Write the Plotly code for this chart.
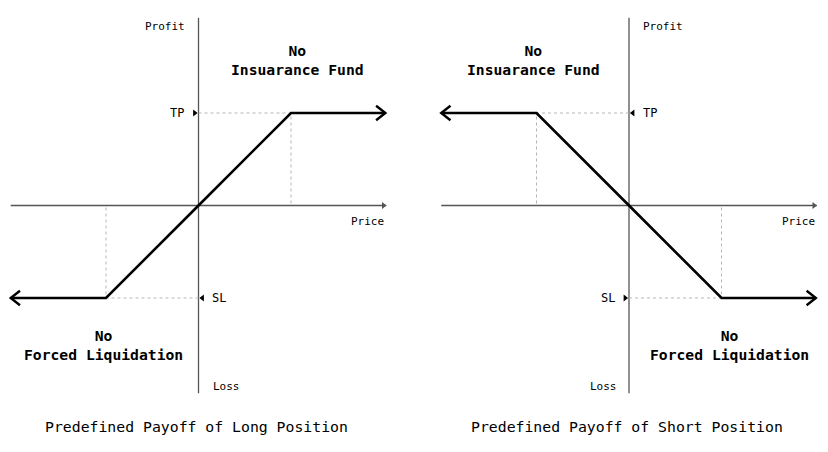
import plotly.graph_objects as go

# ---- data ----
price = [-2.03, -1.0, 0.0, 1.0, 2.02]
long_payoff = [-1.0, -1.0, 0.0, 1.0, 1.0]
short_payoff = [1.0, 1.0, 0.0, -1.0, -1.0]
take_profit = 1.0
stop_loss = -1.0
axis_extent = 2.03
titles = ["Predefined Payoff of Long Position", "Predefined Payoff of Short Position"]
region_top = "No<br>Insuarance Fund"
region_bottom = "No<br>Forced Liquidation"

FONT = "DejaVu Sans Mono"
AXIS_COLOR = "#555555"
GUIDE_COLOR = "#b5b5b5"

# page body margin offset (the plot div sits 8px in from the page corner)
OFF = 8
W, H = 828 - OFF, 452 - OFF

fig = go.Figure()


def add_panel(payoff, xr, yr):
    fig.add_trace(go.Scatter(x=[-axis_extent, axis_extent], y=[0, 0], mode="lines",
                             line=dict(color=AXIS_COLOR, width=1.3), xaxis=xr, yaxis=yr,
                             hoverinfo="skip"))
    fig.add_trace(go.Scatter(x=[0, 0], y=[-axis_extent, axis_extent], mode="lines",
                             line=dict(color=AXIS_COLOR, width=1.3), xaxis=xr, yaxis=yr,
                             hoverinfo="skip"))
    fig.add_trace(go.Scatter(x=[axis_extent - 0.03], y=[0], mode="markers",
                             marker=dict(symbol="triangle-right", size=6, color=AXIS_COLOR),
                             xaxis=xr, yaxis=yr, hoverinfo="skip"))
    gx, gy = [], []
    for px, py in zip(price[1:-1], payoff[1:-1]):
        if py == 0:
            continue
        gx += [0, px, px, None]
        gy += [py, py, 0, None]
    fig.add_trace(go.Scatter(x=gx, y=gy, mode="lines",
                             line=dict(color=GUIDE_COLOR, width=1, dash="dot"),
                             xaxis=xr, yaxis=yr, hoverinfo="skip"))
    fig.add_trace(go.Scatter(x=price, y=payoff, mode="lines",
                             line=dict(color="black", width=2.6), xaxis=xr, yaxis=yr,
                             hoverinfo="skip"))
    ax, ay = [], []
    dx, dy = 0.1, 0.078
    for tip_x, tip_y, sgn in [(price[0], payoff[0], -1), (price[-1], payoff[-1], 1)]:
        ax += [tip_x - sgn * dx, tip_x, tip_x - sgn * dx, None]
        ay += [tip_y + dy, tip_y, tip_y - dy, None]
    fig.add_trace(go.Scatter(x=ax, y=ay, mode="lines",
                             line=dict(color="black", width=2.4), xaxis=xr, yaxis=yr,
                             hoverinfo="skip"))


add_panel(long_payoff, "x", "y")
add_panel(short_payoff, "x2", "y2")

off = 0.042
fig.add_trace(go.Scatter(x=[-off, off], y=[take_profit, stop_loss], mode="markers",
                         marker=dict(symbol=["triangle-right", "triangle-left"], size=6, color="black"),
                         xaxis="x", yaxis="y", hoverinfo="skip"))
fig.add_trace(go.Scatter(x=[off, -off], y=[take_profit, stop_loss], mode="markers",
                         marker=dict(symbol=["triangle-left", "triangle-right"], size=6, color="black"),
                         xaxis="x2", yaxis="y2", hoverinfo="skip"))

small = dict(family=FONT, size=11, color="black")
mid = dict(family=FONT, size=12, color="black")
big = dict(family=FONT, size=14.7, color="black", weight="bold")

ann = []
ann += [
    dict(x=0, y=1.93, xref="x", yref="y", text="Profit", xanchor="right", xshift=-12, font=small),
    dict(x=0, y=-1.96, xref="x", yref="y", text="Loss", xanchor="left", xshift=12, font=small),
    dict(x=axis_extent, y=0, xref="x", yref="y", text="Price", xanchor="right", yshift=-16, font=small),
    dict(x=0, y=take_profit, xref="x", yref="y", text="TP", xanchor="right", xshift=-13, font=mid),
    dict(x=0, y=stop_loss, xref="x", yref="y", text="SL", xanchor="left", xshift=11, font=mid),
    dict(x=1.07, y=1.57, xref="x", yref="y", text=region_top, xanchor="center", font=big),
    dict(x=-1.025, y=-1.51, xref="x", yref="y", text=region_bottom, xanchor="center", font=big),
]
ann += [
    dict(x=0, y=1.93, xref="x2", yref="y2", text="Profit", xanchor="left", xshift=12, font=small),
    dict(x=0, y=-1.96, xref="x2", yref="y2", text="Loss", xanchor="right", xshift=-10, font=small),
    dict(x=axis_extent, y=0, xref="x2", yref="y2", text="Price", xanchor="right", yshift=-16, font=small),
    dict(x=0, y=take_profit, xref="x2", yref="y2", text="TP", xanchor="left", xshift=12, font=mid),
    dict(x=0, y=stop_loss, xref="x2", yref="y2", text="SL", xanchor="right", xshift=-12, font=mid),
    dict(x=-1.035, y=1.57, xref="x2", yref="y2", text=region_top, xanchor="center", font=big),
    dict(x=1.085, y=-1.51, xref="x2", yref="y2", text=region_bottom, xanchor="center", font=big),
]
title_font = dict(family=FONT, size=14.8, color="black")
ann += [
    dict(x=(196 - OFF) / W, y=1 - (426 - OFF) / H, xref="paper", yref="paper", text=titles[0],
         xanchor="center", yanchor="middle", font=title_font),
    dict(x=(627 - OFF) / W, y=1 - (426 - OFF) / H, xref="paper", yref="paper", text=titles[1],
         xanchor="center", yanchor="middle", font=title_font),
]
for a in ann:
    a["showarrow"] = False

hidden = dict(visible=False, showgrid=False, zeroline=False, fixedrange=True)
unit = 92.5
split = 414 - OFF
ox1, ox2, oy = 198.5 - OFF, 629 - OFF, 205.5 - OFF
fig.update_layout(
    width=W, height=H,
    margin=dict(l=0, r=0, t=0, b=0),
    paper_bgcolor="white", plot_bgcolor="white",
    showlegend=False,
    xaxis=dict(domain=[0, split / W], range=[-ox1 / unit, (split - ox1) / unit], **hidden),
    yaxis=dict(domain=[0, 1], range=[-(H - oy) / unit, oy / unit], **hidden),
    xaxis2=dict(domain=[split / W, 1], range=[(split - ox2) / unit, (W - ox2) / unit], anchor="y2", **hidden),
    yaxis2=dict(domain=[0, 1], range=[-(H - oy) / unit, oy / unit], anchor="x2", **hidden),
    annotations=ann,
)

fig.write_html("out.html")
